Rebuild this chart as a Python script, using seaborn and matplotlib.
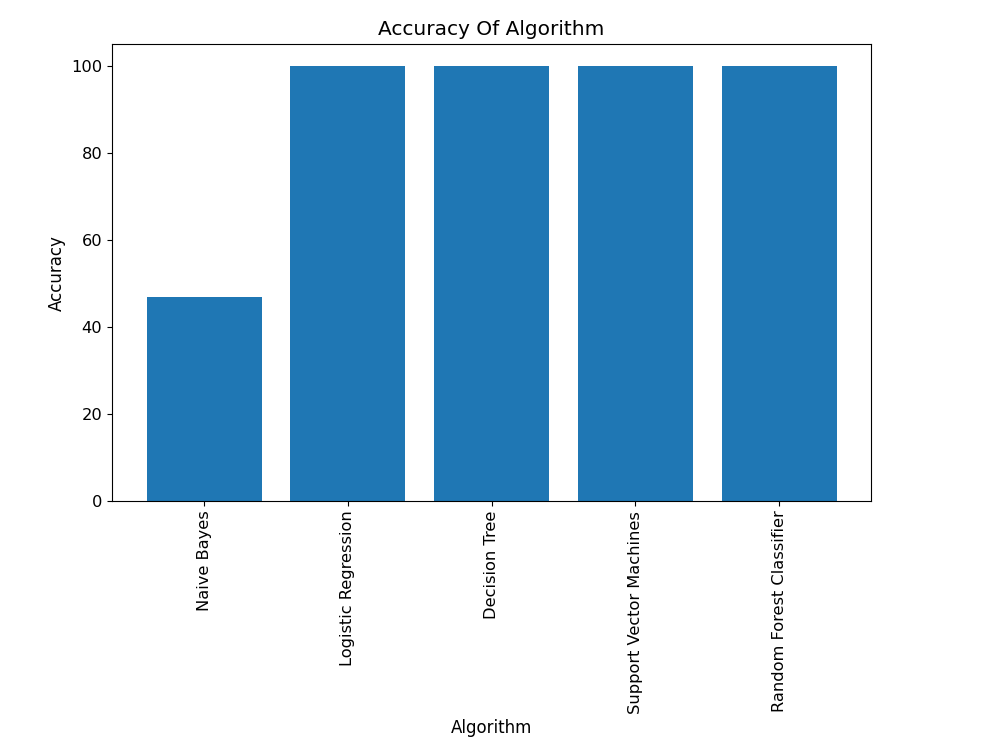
import pandas as pd
import seaborn as sns
import matplotlib.pyplot as plt

algorithms = ["Naive Bayes", "Logistic Regression", "Decision Tree",
              "Support Vector Machines", "Random Forest Classifier"]
accuracy = [46.9, 100, 100, 100, 100]

df = pd.DataFrame({"Algorithm": algorithms, "Accuracy": accuracy})

fig = plt.figure(figsize=(10, 7.5), dpi=100)
ax = fig.add_axes([0.112, 0.332, 0.759, 0.609])
sns.barplot(data=df, x="Algorithm", y="Accuracy", color="#1f77b4",
            saturation=1, width=0.8, ax=ax)
ax.set_xlim(-0.64, len(algorithms) - 0.36)
ax.set_ylim(0, 105)
ax.set_title("Accuracy Of Algorithm", fontsize=14.5, pad=7)
ax.set_xlabel("Algorithm", fontsize=12)
ax.set_ylabel("Accuracy", fontsize=12)
ax.tick_params(axis="x", labelrotation=90, labelsize=11.7)
ax.tick_params(axis="y", labelsize=11.7)
fig.savefig("out.png", dpi=100)
